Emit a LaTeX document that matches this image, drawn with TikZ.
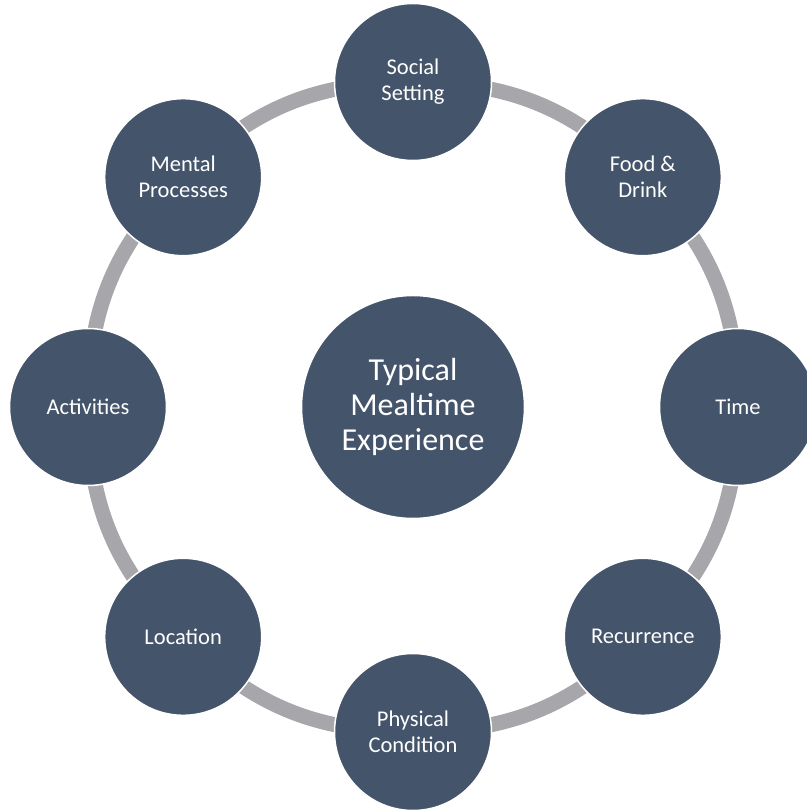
\documentclass[tikz,border=0pt]{standalone}
\usepackage{fontspec}
\setmainfont{Carlito}
\usetikzlibrary{backgrounds,calc}
\definecolor{nodefill}{HTML}{44546A}
\definecolor{ringgray}{HTML}{A7A7AB}
\begin{document}
\begin{tikzpicture}[x=1pt,y=1pt,
  outer/.style={circle,fill=nodefill,draw=white,line width=1.5pt,minimum size=157pt,inner sep=0pt,
    text=white,align=center,font=\fontsize{22.5}{26}\selectfont},
  hub/.style={circle,fill=nodefill,draw=white,line width=1.5pt,minimum size=223pt,inner sep=0pt,
    text=white,align=center,font=\fontsize{32}{35}\selectfont},
  ring/.style={draw=ringgray,line width=15pt}]
\useasboundingbox (0,0) rectangle (806,811);
\coordinate (c) at (413,404);
\node[hub] (hub) at (c) {Typical\\Mealtime\\Experience};
\node[outer] (n1) at ($(c)+(90:325)$) {Social\\Setting};
\node[outer] (n2) at ($(c)+(45:325)$) {Food \&\\Drink};
\node[outer] (n3) at ($(c)+(0:325)$) {Time};
\node[outer] (n4) at ($(c)+(-45:325)$) {Recurrence};
\node[outer] (n5) at ($(c)+(-90:325)$) {Physical\\Condition};
\node[outer] (n6) at ($(c)+(-135:325)$) {Location};
\node[outer] (n7) at ($(c)+(180:325)$) {Activities};
\node[outer] (n8) at ($(c)+(135:325)$) {Mental\\Processes};
\begin{scope}[on background layer]
\foreach \a/\b in {n1/n2,n2/n3,n3/n4,n4/n5,n5/n6,n6/n7,n7/n8,n8/n1}
  \draw[ring] (\a.center) to[bend left=22.5] (\b.center);
\end{scope}
\end{tikzpicture}
\end{document}
